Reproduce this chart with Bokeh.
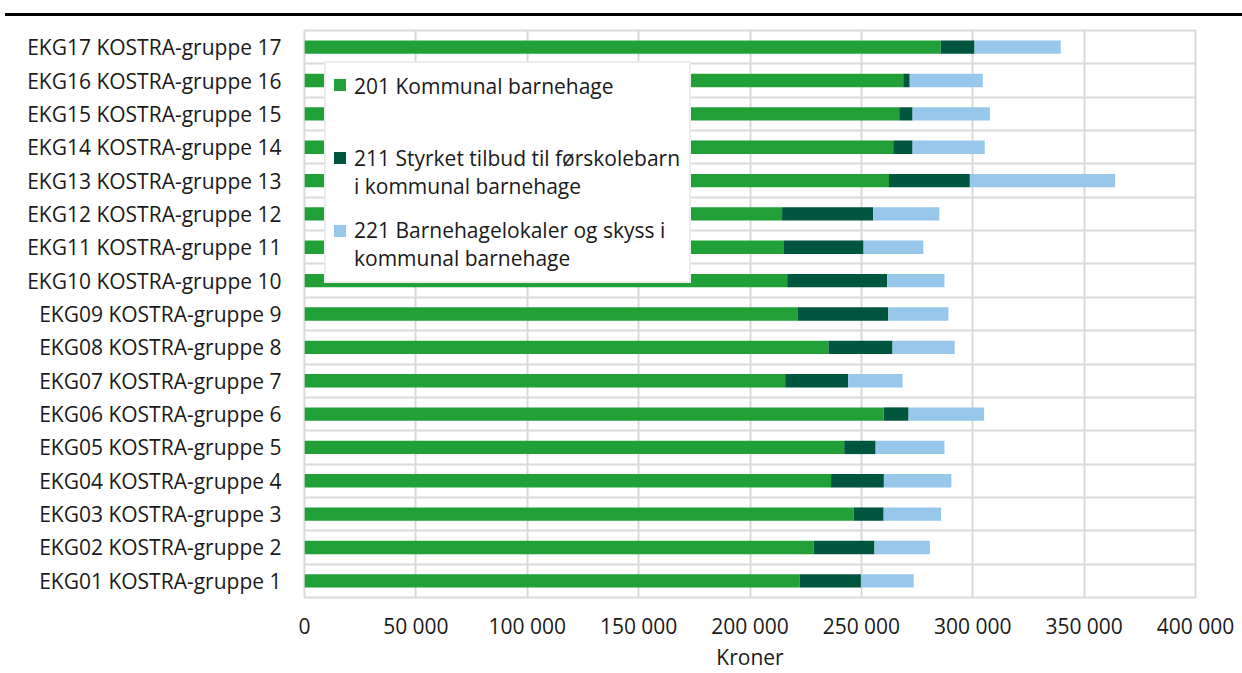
from bokeh.plotting import figure
from bokeh.models import ColumnDataSource, FactorRange, FixedTicker, Legend, LegendItem, Div
from bokeh.layouts import column
from bokeh.embed import file_html
from bokeh.resources import INLINE

categories = [
    "EKG01 KOSTRA-gruppe 1", "EKG02 KOSTRA-gruppe 2", "EKG03 KOSTRA-gruppe 3",
    "EKG04 KOSTRA-gruppe 4", "EKG05 KOSTRA-gruppe 5", "EKG06 KOSTRA-gruppe 6",
    "EKG07 KOSTRA-gruppe 7", "EKG08 KOSTRA-gruppe 8", "EKG09 KOSTRA-gruppe 9",
    "EKG10 KOSTRA-gruppe 10", "EKG11 KOSTRA-gruppe 11", "EKG12 KOSTRA-gruppe 12",
    "EKG13 KOSTRA-gruppe 13", "EKG14 KOSTRA-gruppe 14", "EKG15 KOSTRA-gruppe 15",
    "EKG16 KOSTRA-gruppe 16", "EKG17 KOSTRA-gruppe 17",
]
kommunal_201 = [222300, 228600, 246500, 236400, 242300, 260000, 215800, 235200, 221500,
                216700, 215000, 214400, 262400, 264300, 267000, 268800, 285600]
styrket_211 = [27500, 27300, 13500, 23700, 14100, 11200, 28300, 28800, 40600,
               44900, 36000, 40900, 36300, 8700, 6000, 2900, 15200]
lokaler_221 = [23700, 24900, 25800, 30300, 30900, 33900, 24400, 27900, 27000,
               25700, 26800, 29700, 65200, 32400, 34700, 32800, 38700]
series_labels = [
    "201 Kommunal barnehage\n ",
    "211 Styrket tilbud til førskolebarn\ni kommunal barnehage",
    "221 Barnehagelokaler og skyss i\nkommunal barnehage",
]
x_ticks = [0, 50000, 100000, 150000, 200000, 250000, 300000, 350000, 400000]
x_tick_labels = ["0", "50 000", "100 000", "150 000", "200 000", "250 000",
                 "300 000", "350 000", "400 000"]
x_axis_label = "Kroner"

colors = ["#21A038", "#00553F", "#97C8EC"]
FONT = "Open Sans"
FS = "21px"
TXT = "#1a1a1a"
GRID = "#d9d9d9"

source = ColumnDataSource(dict(cat=categories, s201=kommunal_201, s211=styrket_211, s221=lokaler_221))

p = figure(width=1242, height=657, y_range=FactorRange(factors=categories),
           x_range=(0, 400000), output_backend="svg", toolbar_location=None,
           min_border_left=304, min_border_right=47, min_border_top=14, min_border_bottom=76)

renderers = p.hbar_stack(["s201", "s211", "s221"], y="cat", height=0.4, color=colors,
                         line_width=0, source=source)

# invisible stand-ins so that the text legend shows no swatches of its own
blank = ColumnDataSource(dict(y=[], right=[]))
ghosts = [p.hbar(y="y", right="right", height=0.4, source=blank,
                 fill_alpha=0, line_alpha=0) for _ in series_labels]

p.outline_line_color = GRID
p.outline_line_width = 2
p.background_fill_color = "white"

p.xgrid.ticker = FixedTicker(ticks=x_ticks)
p.xgrid.grid_line_color = GRID
p.xgrid.grid_line_width = 2
p.ygrid.ticker = FixedTicker(ticks=list(range(len(categories) + 1)))
p.ygrid.grid_line_color = GRID
p.ygrid.grid_line_width = 2

p.xaxis.ticker = FixedTicker(ticks=x_ticks)
p.xaxis.major_label_overrides = {t: l for t, l in zip(x_ticks, x_tick_labels)}
p.xaxis.axis_label = x_axis_label
for ax in (p.xaxis[0], p.yaxis[0]):
    ax.axis_line_color = None
    ax.major_tick_line_color = None
    ax.minor_tick_line_color = None
    ax.major_tick_out = 0
    ax.major_tick_in = 0
    ax.major_label_text_font = FONT
    ax.major_label_text_font_size = FS
    ax.major_label_text_color = TXT
p.xaxis.major_label_standoff = 14
p.xaxis.axis_label_standoff = 0
p.xaxis.axis_label_text_font = FONT
p.xaxis.axis_label_text_font_size = FS
p.xaxis.axis_label_text_font_style = "normal"
p.xaxis.axis_label_text_color = TXT
p.yaxis.major_label_standoff = 23

# Legend box with the (multi-line) texts
legend_text = Legend(
    items=[LegendItem(label=l, renderers=[g]) for l, g in zip(series_labels, ghosts)],
    location=(20, 314), orientation="vertical",
    glyph_width=15, glyph_height=15, label_standoff=4, padding=9, spacing=16,
    label_text_font=FONT, label_text_font_size=FS, label_text_color=TXT,
    border_line_color=GRID, border_line_width=2, background_fill_color="white",
    background_fill_alpha=1.0,
)
p.add_layout(legend_text, "center")

# Legend squares aligned with the first line of each entry
legend_marks = Legend(
    items=[LegendItem(label=" ", renderers=[r]) for r in renderers],
    location=(28, 352), orientation="vertical",
    glyph_width=15, glyph_height=15, label_standoff=0, padding=0, spacing=44,
    label_height=29, label_width=1, label_text_font_size="1px",
    border_line_color=None, background_fill_alpha=0.0,
)
p.add_layout(legend_marks, "center")

top_rule = Div(text="", width=1237, height=16, margin=(0, 0, 0, 5),
               styles={"border-bottom": "3px solid black", "box-sizing": "border-box"})

layout = column(top_rule, p, spacing=0)
open("out.html", "w").write(file_html(layout, INLINE))
